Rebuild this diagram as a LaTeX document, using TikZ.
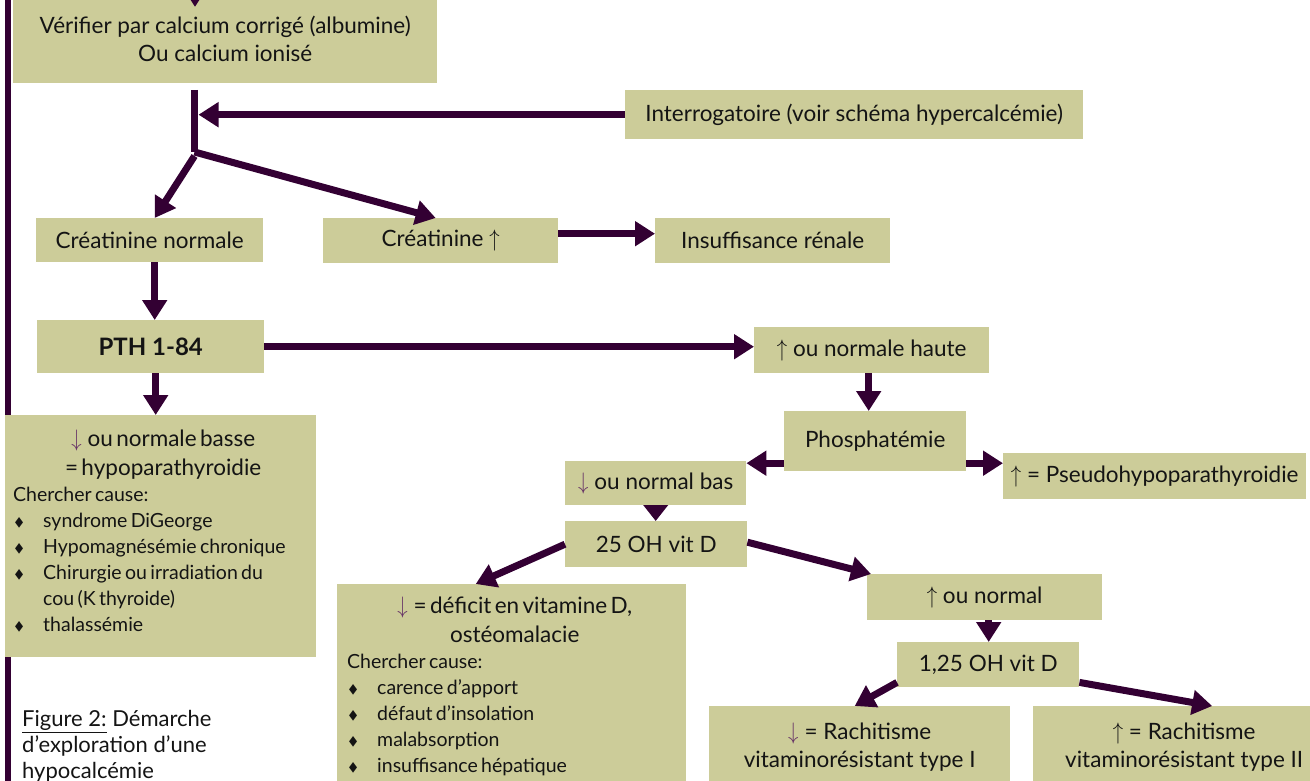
\documentclass[tikz,border=0pt]{standalone}
\usepackage{fontspec}
\setmainfont{Lato}
\newfontfamily\symf{DejaVu Sans}
\usetikzlibrary{arrows.meta}
\definecolor{plum}{HTML}{330033}
\definecolor{khaki}{HTML}{CCCC99}
\definecolor{dnc}{HTML}{663366}
\definecolor{ink}{HTML}{141414}
\newcommand\dn{\textcolor{dnc}{\scalebox{1}[1.15]{$\downarrow$}}\hspace{6pt}}
\newcommand\upa{\scalebox{1}[1.15]{$\uparrow$}}
\newcommand\bul{\makebox[30pt][l]{\hspace{2pt}\raisebox{1pt}{\scalebox{0.75}[1]{\symf\fontsize{14}{14}\selectfont ◆}}}}
\newcommand\cont{\hspace*{30pt}}
\newcommand\mainsz{\fontsize{22.5}{28.5}\selectfont}
\newcommand\listsz{\fontsize{19.5}{26}\selectfont}
\tikzset{
  box/.style={fill=khaki, inner sep=0pt, anchor=north west, align=center, font=\mainsz, text=ink},
  txt/.style={inner sep=0pt, text=ink, align=left},
  conn/.style={draw=plum, line width=7pt},
  arr/.style={conn, -{Triangle[width=24pt,length=20pt]}},
  arrs/.style={conn, -{Triangle[width=24pt,length=16pt]}},
}
\begin{document}
\begin{tikzpicture}[x=1pt,y=-1pt]
\useasboundingbox (0,0) rectangle (1310,781);
\clip (0,0) rectangle (1310,781);
% left bar
\fill[plum] (5,0) rectangle (11,781);
% boxes
\node[box, minimum width=424pt, minimum height=89pt] (verif) at (13,-6) {Vérifier par calcium corrigé (albumine)\\Ou calcium ionisé};
\node[box, minimum width=458pt, minimum height=49pt] (interr) at (625,90) {Interrogatoire (voir schéma hypercalcémie)};
\node[box, minimum width=227pt, minimum height=44pt] (cn) at (36,218) {Créatinine normale};
\node[box, minimum width=235pt, minimum height=45pt] (cu) at (323,218) {Créatinine \upa};
\node[box, minimum width=235pt, minimum height=45pt] (ins) at (655,218) {Insuffisance rénale};
\node[box, minimum width=227pt, minimum height=53pt, font=\fontsize{24}{28}\selectfont\bfseries] (pth) at (37,320) {PTH 1-84};
\node[box, minimum width=235pt, minimum height=46pt] (haute) at (754,327) {\upa{} ou normale haute};
\node[box, minimum width=182pt, minimum height=60pt] (phos) at (784,411) {Phosphatémie};
\node[box, minimum width=311pt, minimum height=242pt] (hypo) at (5,415) {};
\node[txt, anchor=north west, text width=300pt] (hypotxt) at (13,430) {{\centering\mainsz \dn ou normale basse\\= hypoparathyroidie\par}{\listsz Chercher cause:\\\bul syndrome DiGeorge\\\bul Hypomagnésémie chronique\\\bul Chirurgie ou irradiation du\\\cont cou (K thyroide)\\\bul thalassémie\par}};
\node[box, minimum width=181pt, minimum height=44pt] (bas) at (565,461) {\dn ou normal bas};
\node[box, minimum width=303pt, minimum height=46pt] (pseudo) at (1003,453) {\upa{} = Pseudohypoparathyroidie};
\node[box, minimum width=182pt, minimum height=46pt] (oh25) at (565,521) {25 OH vit D};
\node[box, minimum width=349pt, minimum height=220pt] (def) at (337,584) {};
\node[txt, anchor=north west, text width=335pt] (deftxt) at (347,597) {{\centering\mainsz \dn = déficit en vitamine D,\\ostéomalacie\par}{\listsz Chercher cause:\\\bul carence d’apport\\\bul défaut d’insolation\\\bul malabsorption\\\bul insuffisance hépatique\par}};
\node[box, minimum width=235pt, minimum height=46pt] (onorm) at (867,574) {\upa{} ou normal};
\node[box, minimum width=182pt, minimum height=45pt] (oh125) at (897,642) {1,25 OH vit D};
\node[box, minimum width=301pt, minimum height=82pt] (r1) at (709,706) {\dn = Rachitisme\\vitaminorésistant type I};
\node[box, minimum width=302pt, minimum height=82pt] (r2) at (1033,706) {\upa{} = Rachitisme\\vitaminorésistant type II};
% caption
\node[txt, anchor=north west, font=\fontsize{22}{26}\selectfont] (cap) at (22,710) {\underline{Figure 2:} Démarche\\d’exploration d’une\\hypocalcémie};
% connectors
\coordinate (prev) at (195,-60);
\draw[arr] (prev) -- ([yshift=-13pt]prev |- verif.north);
\coordinate (vtop) at (194.5,90);
\coordinate (j) at (194.5,152);
\draw[conn] (vtop) -- (j);
\draw[arr] (interr.west) -- ([xshift=4pt]interr.west -| j);
\draw[arr] ([yshift=-4pt]j) -- ([xshift=5pt]cn.north);
\draw[arr] (j) -- ([xshift=-5pt]cu.north);
\draw[arr] ([yshift=7pt]cu.east) -- ([yshift=7pt]cu.east -| ins.west);
\draw[arr] ([xshift=5pt]cn.south) -- ([xshift=5pt]cn.south |- pth.north);
\draw[arr] ([xshift=5pt]pth.south) -- ([xshift=5pt]pth.south |- hypo.north);
\draw[arr] (pth.east) -- (pth.east -| haute.west);
\draw[arr] ([xshift=-3pt]haute.south) -- ([xshift=-3pt]haute.south |- phos.north);
\draw[arr] ([yshift=-22pt]phos.west) -- ([yshift=-22pt]phos.west -| bas.east);
\draw[arr] ([yshift=-22pt]phos.east) -- ([yshift=-22pt]phos.east -| pseudo.west);
\draw[arrs] (bas.south) -- (bas.south |- oh25.north);
\draw[arr] (oh25.west) -- ([xshift=-36pt]def.north);
\draw[arr] ([yshift=2pt]oh25.east) -- ([xshift=4pt]onorm.north west);
\draw[arr] ([xshift=4pt]onorm.south) -- ([xshift=4pt]onorm.south |- oh125.north);
\draw[arr] ([yshift=5pt]oh125.south west) -- ([xshift=-5pt]r1.north);
\draw[arr] ([yshift=5pt]oh125.south east) -- ([xshift=28pt]r2.north);
\end{tikzpicture}
\end{document}
